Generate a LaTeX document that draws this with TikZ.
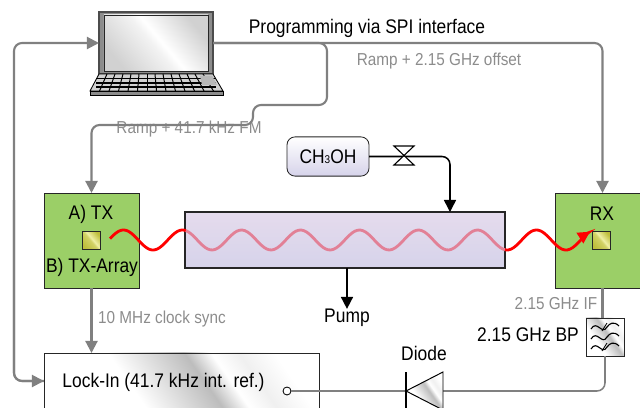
\documentclass[tikz,border=0pt]{standalone}
\usepackage{fontspec}
\usepackage{tikz}
\usetikzlibrary{arrows.meta}
\setmainfont[FakeStretch = 0.885]{Liberation Sans}

\definecolor{wiregray}{RGB}{128,128,128}
\definecolor{labelgray}{RGB}{140,140,140}
\definecolor{boxgreen}{RGB}{155,207,103}
\definecolor{wavepink}{RGB}{226,128,150}
\definecolor{celltop}{RGB}{229,219,237}
\definecolor{cellbottom}{RGB}{214,211,234}
\definecolor{goldlight}{RGB}{240,240,165}
\definecolor{golddark}{RGB}{190,190,60}

\pgfdeclarehorizontalshading{glossy}{100bp}{color(0bp)=(white); color(38bp)=(white); color(55bp)=(black!26); color(61bp)=(white); color(67bp)=(black!6); color(75bp)=(white); color(100bp)=(white)}
\pgfdeclarehorizontalshading{glossscreen}{100bp}{color(0bp)=(black!18); color(25bp)=(black!18); color(48bp)=(black!5); color(53bp)=(white); color(75bp)=(black!18); color(100bp)=(black!18)}
\pgfdeclarehorizontalshading{glossgold}{100bp}{color(0bp)=(golddark); color(25bp)=(golddark); color(48bp)=(golddark!60!goldlight); color(54bp)=(goldlight); color(75bp)=(golddark); color(100bp)=(golddark)}

\tikzset{
    box/.style = {draw = black!85, line width = 0.6pt, inner sep = 0pt, outer sep = 0pt},
    greenbox/.style = {box, fill = boxgreen, minimum width = 2.375cm, minimum height = 2.375cm},
    port/.style = {box, shading = glossgold, shading angle = 40, minimum width = 0.46cm, minimum height = 0.46cm},
    wire/.style = {draw = wiregray, line width = 1.5pt, rounded corners = 0.2cm},
    tip/.style = {-{Triangle[length = 3mm, width = 3mm]}},
    note/.style = {text = labelgray, inner sep = 0pt, font = \fontsize{12.3}{14}\selectfont},
    word/.style = {inner sep = 0pt, font = \fontsize{14}{16}\selectfont},
    wave/.style = {line width = 2pt}
}

\begin{document}
\begin{tikzpicture}[x = 0.025cm, y = -0.025cm]
    \useasboundingbox (0,0) rectangle (640,408);
    \clip (0,0) rectangle (640,408);

    \node [box, minimum width = 2.85cm, minimum height = 1.55cm, fill = white] (screen) at (156,43) {};
    \draw [black!70, line width = 1pt, fill = black!45] (99,12) rectangle (213,74);
    \node [box, shading = glossscreen, shading angle = 40, minimum width = 2.6cm, minimum height = 1.4cm] (panel) at (156,43) {};

    \draw [black, line width = 0.6pt, fill = black!18] (99,74) -- (213,74) -- (223,91) -- (90,91) -- cycle;
    \foreach \row in {78.5,83,87} {
        \draw [black, line width = 0.8pt] (96,\row) -- (216,\row);
    }
    \foreach \key in {1,...,13} {
        \draw [black, line width = 0.7pt] (99 + \key * 8, 74) -- (90 + \key * 9.5, 91);
    }
    \fill [black!28] (200,75.5) -- (212,75.5) -- (217,85) -- (202,85) -- cycle;
    \draw [black, fill = black!45, line width = 0.6pt] (90,91) rectangle (223,95);

    \node [box, greenbox] (tx) at (91.5,240.5) {};
    \node [box, greenbox] (rx) at (602.5,240.5) {};
    \node [port] (txport) at (91.5,240.5) {};
    \node [port] (rxport) at (601.5,240.5) {};
    \node [word] (txa) at (91,214) {A) TX};
    \node [word] (txb) at (92,267) {B) TX-Array};
    \node [word] (rxlabel) at (602,214) {RX};

    \node [box, line width = 0.8pt, top color = celltop, bottom color = cellbottom, minimum width = 8cm, minimum height = 1.4cm] (cell) at (345,240) {};
    \node [box, rounded corners = 0.2cm, top color = white, bottom color = cellbottom, minimum width = 2.05cm, minimum height = 0.98cm, word] (methanol) at (328,156.5) {CH{\fontsize{8}{8}\selectfont 3}OH};

    \node [box, shading = glossy, shading angle = 35, minimum width = 6.875cm, minimum height = 1.4cm] (lockin) at (181.5,381) {};
    \node [word] (locktext) at (163.5,382) {Lock-In (41.7 kHz int. ref.)};
    \node [draw = black, fill = white, circle, line width = 0.6pt, inner sep = 0pt, minimum size = 0.2cm] (lockout) at (287,391) {};

    \node [box, shading = glossy, shading angle = 35, minimum width = 0.95cm, minimum height = 0.95cm] (bandpass) at (605,337) {};
    \foreach \band in {-10,0,10} {
        \draw [black, line width = 0.8pt] (591,337 + \band + 2) .. controls (597,337 + \band - 8) and (602,337 + \band + 9) .. (607,337 + \band) .. controls (610,337 + \band - 4) and (614,337 + \band - 6) .. (619,337 + \band - 1);
    }
    \foreach \band in {-10,10} {
        \draw [black, line width = 0.6pt] (602,337 + \band + 4) -- (607,337 + \band - 4);
    }

    \coordinate (diodetip) at (406,391);
    \coordinate (diodebase) at (443,391);
    \coordinate (cellin) at (450,212);

    \node [word] (program) at (367,28) {Programming via SPI interface};
    \node [note] (rampoffset) at (439,61) {Ramp + 2.15 GHz offset};
    \node [note] (rampfm) at (189,129) {Ramp + 41.7 kHz FM};
    \node [note] (clocksync) at (162,319) {10 MHz clock sync};
    \node [note] (iflabel) at (556,304) {2.15 GHz IF};
    \node [word] (bplabel) at (528,335) {2.15 GHz BP};
    \node [word] (diodelabel) at (424,353) {Diode};
    \node [word] (pump) at (347,318) {Pump};

    \draw [wire, tip] (screen.east) -| (rx.north);
    \draw [wire, tip] (screen.east) -| (327,105) -| (253,125) -| (tx.north);
    \draw [wire, tip] (lockin.west) -| (14,200) |- (screen.west);
    \draw [wire, tip] (14,200) -- (14,381) -- (lockin.west);
    \draw [wire, tip] (tx.south) -- (lockin.north -| tx.south);
    \draw [wire] (rx.south) -- (rx.south |- bandpass.north);
    \draw [wire, line width = 1.1pt] (lockout) -- (diodetip);
    \draw [wire, line width = 1.1pt] (diodebase) -| (bandpass.south);

    \draw [black, line width = 0.7pt, shading = glossy, shading angle = 35] (diodetip) -- (443,372) -- (443,410) -- cycle;
    \draw [black, line width = 1.1pt] (406,372) -- (406,408);

    \draw [black, line width = 1.1pt, rounded corners = 0.2cm, tip] (methanol.east) -| (cellin);
    \draw [black, line width = 0.8pt, fill = white] (394,146) -- (414,146) -- (394,165) -- (414,165) -- cycle;
    \draw [black, line width = 1.2pt, tip] (cell.south -| pump) -- (pump.north);

    \draw [red, wave] plot [domain = 110:186, samples = 50, smooth] (\x, {240 - 10 * cos((\x - 123.5) / 59 * 360)});
    \draw [wavepink, wave] plot [domain = 186:505, samples = 120, smooth] (\x, {240 - 10 * cos((\x - 123.5) / 59 * 360)});
    \draw [red, wave, tip] plot [domain = 505:590, samples = 50, smooth] (\x, {240 - 10 * cos((\x - 123.5) / 59 * 360)});
\end{tikzpicture}
\end{document}
